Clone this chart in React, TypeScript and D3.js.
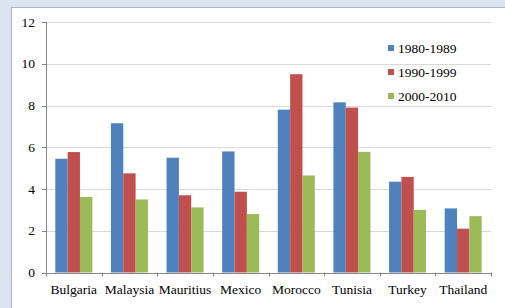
import React from 'react';
import * as d3 from 'd3';

const countries = ['Bulgaria', 'Malaysia', 'Mauritius', 'Mexico', 'Morocco', 'Tunisia', 'Turkey', 'Thailand'];
const periods = ['1980-1989', '1990-1999', '2000-2010'];
const s1980 = [5.45, 7.15, 5.5, 5.8, 7.8, 8.15, 4.35, 3.07];
const s1990 = [5.77, 4.75, 3.7, 3.87, 9.5, 7.9, 4.58, 2.1];
const s2000 = [3.62, 3.5, 3.12, 2.8, 4.65, 5.78, 3.0, 2.7];
const yTicks = [0, 2, 4, 6, 8, 10, 12];
const colors = ['#4f81bd', '#c0504d', '#9bbb59'];

const W = 505;
const H = 308;
const margin = { top: 22, right: 14, bottom: 36, left: 46 };
const font = 'Liberation Serif, serif';

export default function App() {
  const series = [s1980, s1990, s2000];
  const x0 = d3.scaleBand<string>().domain(countries).range([margin.left, W - margin.right]).padding(0);
  const inner = x0.bandwidth() * 0.665;
  const x1 = d3.scaleBand<string>().domain(periods).range([0, inner]).padding(0);
  const off = (x0.bandwidth() - inner) / 2;
  const y = d3.scaleLinear().domain([0, 12]).range([H - margin.bottom + 0.5, margin.top]);
  const boundaries = d3.range(countries.length + 1).map(i => margin.left + i * x0.bandwidth());
  const textStyle = { fontFamily: font, fontSize: '13.5px' };

  return (
    <svg width={W} height={H} style={{ position: 'absolute', left: 0, top: 0, display: 'block' }}>
      <rect x={0} y={0} width={W} height={H} fill="#dbe5f1" />
      <rect x={11.5} y={7.5} width={W} height={H} fill="#ffffff" stroke="#a6b7cc" />
      {yTicks.map(t => (
        <g key={t}>
          {t > 0 && (
            <line x1={margin.left} x2={W - margin.right} y1={Math.round(y(t)) + 0.5} y2={Math.round(y(t)) + 0.5} stroke="#d9d9d9" />
          )}
          <line x1={margin.left - 4} x2={margin.left} y1={Math.round(y(t)) + 0.5} y2={Math.round(y(t)) + 0.5} stroke="#868686" />
          <text x={35} y={y(t)} dy="0.35em" textAnchor="end" style={textStyle} fill="#000">
            {t}
          </text>
        </g>
      ))}
      {countries.map((c, i) => (
        <g key={c} transform={`translate(${(x0(c) ?? 0) + off},0)`}>
          {periods.map((p, j) => (
            <rect
              key={p}
              x={x1(p)}
              y={y(series[j][i])}
              width={x1.bandwidth()}
              height={y(0) - y(series[j][i])}
              fill={colors[j]}
            />
          ))}
        </g>
      ))}
      <line x1={margin.left + 0.5} x2={margin.left + 0.5} y1={margin.top} y2={y(0)} stroke="#868686" />
      <line x1={margin.left} x2={W - margin.right} y1={Math.round(y(0)) + 0.5} y2={Math.round(y(0)) + 0.5} stroke="#868686" />
      {boundaries.map((b, i) => (
        <line key={i} x1={Math.round(b) + 0.5} x2={Math.round(b) + 0.5} y1={y(0)} y2={y(0) + 4} stroke="#868686" />
      ))}
      {countries.map(c => (
        <text key={c} x={(x0(c) ?? 0) + x0.bandwidth() / 2} y={294} textAnchor="middle" style={textStyle} fill="#000">
          {c}
        </text>
      ))}
      {periods.map((p, j) => (
        <g key={p} transform={`translate(388,${48 + j * 24})`}>
          <rect x={0} y={-3} width={6} height={6} fill={colors[j]} />
          <text x={10} y={0} dy="0.35em" style={textStyle} fill="#000">
            {p}
          </text>
        </g>
      ))}
    </svg>
  );
}
